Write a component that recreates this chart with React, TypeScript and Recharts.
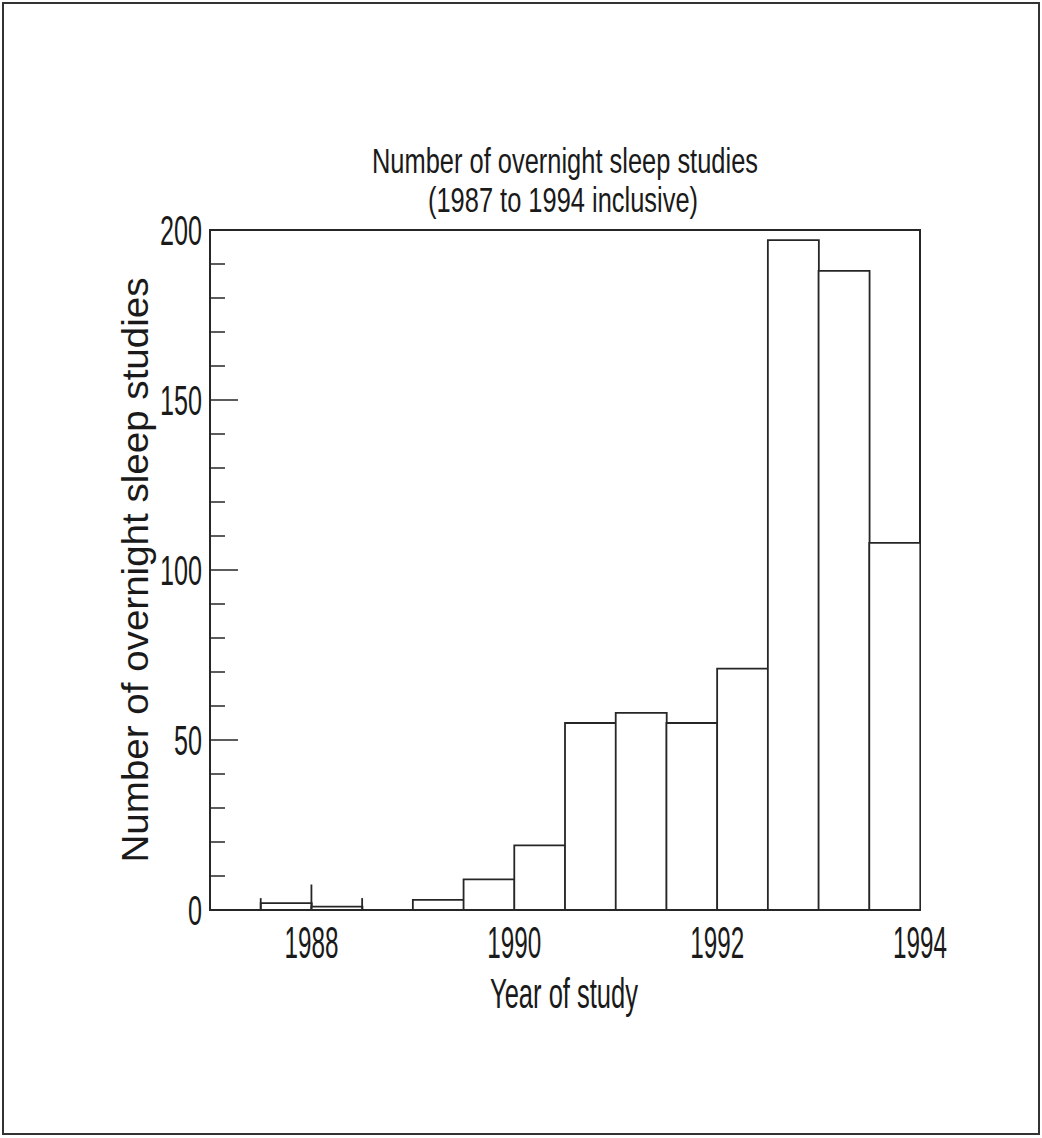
import React from 'react';
import { BarChart, Bar, XAxis, YAxis, ReferenceArea, ReferenceLine } from 'recharts';

// Half-year bins (centre of each bin) and number of studies per bin
const binCenters = [1987.25, 1987.75, 1988.25, 1988.75, 1989.25, 1989.75, 1990.25, 1990.75, 1991.25, 1991.75, 1992.25, 1992.75, 1993.25, 1993.75];
const studyCounts = [0, 2, 1, 0, 3, 9, 19, 55, 58, 55, 71, 197, 188, 108];

const xTicks = [1988, 1990, 1992, 1994];
const yTicks = [0, 10, 20, 30, 40, 50, 60, 70, 80, 90, 100, 110, 120, 130, 140, 150, 160, 170, 180, 190, 200];
const yMajorTicks = [0, 50, 100, 150, 200];

// small extra bin-edge marks visible near the early bins
const edgeYears = [1987.5, 1988, 1988.5];
const edgeHeights = [3.5, 7.5, 3.5];

const titleLine1 = 'Number of overnight sleep studies';
const titleLine2 = '(1987 to 1994 inclusive)';
const xLabel = 'Year of study';
const yLabel = 'Number of overnight sleep studies';

const data = binCenters.map((x, i) => ({ x, count: studyCounts[i] }));

const INK = '#262626';
const FONT = '"Liberation Sans", Arial, Helvetica, sans-serif';

const renderYTick = (props: any) => {
  const { x, y, payload } = props;
  const v = payload.value;
  const major = yMajorTicks.includes(v);
  const s = String(v);
  const ax = x;
  return (
    <g key={`yt-${v}`}>
      <line x1={ax} x2={ax + (major ? 28 : 15)} y1={y} y2={y} stroke={INK} strokeWidth={1.5} />
      {major && (
        <text
          x={ax - 8}
          y={y + 15}
          textAnchor="end"
          fontFamily={FONT}
          fontSize={42}
          fill="#1a1a1a"
          textLength={14 * s.length}
          lengthAdjust="spacingAndGlyphs"
        >
          {s}
        </text>
      )}
    </g>
  );
};

const renderXTick = (props: any) => {
  const { x, y, payload } = props;
  const s = String(payload.value);
  return (
    <text
      key={`xt-${s}`}
      x={x}
      y={y + 48}
      textAnchor="middle"
      fontFamily={FONT}
      fontSize={45}
      fill="#1a1a1a"
      textLength={13.5 * s.length}
      lengthAdjust="spacingAndGlyphs"
    >
      {s}
    </text>
  );
};

export default function App() {
  return (
    <div style={{ position: 'absolute', left: 0, top: 0, width: 1042, height: 1138, background: '#fff' }}>
      <BarChart
        width={1042}
        height={1138}
        data={data}
        margin={{ top: 230, right: 122, bottom: 198, left: 180 }}
        barCategoryGap={0}
        barGap={0}
      >
        <XAxis
          dataKey="x"
          type="number"
          domain={[1987, 1994]}
          ticks={xTicks}
          allowDataOverflow
          height={30}
          tickSize={0}
          tickMargin={0}
          tickLine={false}
          axisLine={false}
          tick={renderXTick}
          interval={0}
        />
        <YAxis
          type="number"
          domain={[0, 200]}
          ticks={yTicks}
          allowDataOverflow
          width={30}
          tickSize={0}
          tickMargin={0}
          tickLine={false}
          axisLine={false}
          tick={renderYTick}
          interval={0}
        />
        <ReferenceArea x1={1987} x2={1994} y1={0} y2={200} fill="none" stroke={INK} strokeWidth={2} fillOpacity={0} />
        <Bar dataKey="count" fill="#ffffff" stroke={INK} strokeWidth={1.8} isAnimationActive={false} />
        {edgeYears.map((yr, i) => (
          <ReferenceLine
            key={yr}
            segment={[{ x: yr, y: 0 }, { x: yr, y: edgeHeights[i] }]}
            stroke={INK}
            strokeWidth={1.8}
          />
        ))}
      </BarChart>
      <svg
        width={1042}
        height={1138}
        style={{ position: 'absolute', left: 0, top: 0, pointerEvents: 'none' }}
      >
        <rect x={3} y={3} width={1036} height={1131} fill="none" stroke="#333" strokeWidth={2} />
        <text x={565} y={173} textAnchor="middle" fontFamily={FONT} fontSize={35} fill="#1a1a1a" textLength={386} lengthAdjust="spacingAndGlyphs">
          {titleLine1}
        </text>
        <text x={563} y={212} textAnchor="middle" fontFamily={FONT} fontSize={35} fill="#1a1a1a" textLength={270} lengthAdjust="spacingAndGlyphs">
          {titleLine2}
        </text>
        <text x={564} y={1008} textAnchor="middle" fontFamily={FONT} fontSize={42} fill="#1a1a1a" textLength={148} lengthAdjust="spacingAndGlyphs">
          {xLabel}
        </text>
        <text
          x={0}
          y={0}
          transform="translate(148 570) rotate(-90)"
          textAnchor="middle"
          fontFamily={FONT}
          fontSize={37}
          fill="#1a1a1a"
          textLength={585}
          lengthAdjust="spacingAndGlyphs"
        >
          {yLabel}
        </text>
      </svg>
    </div>
  );
}
